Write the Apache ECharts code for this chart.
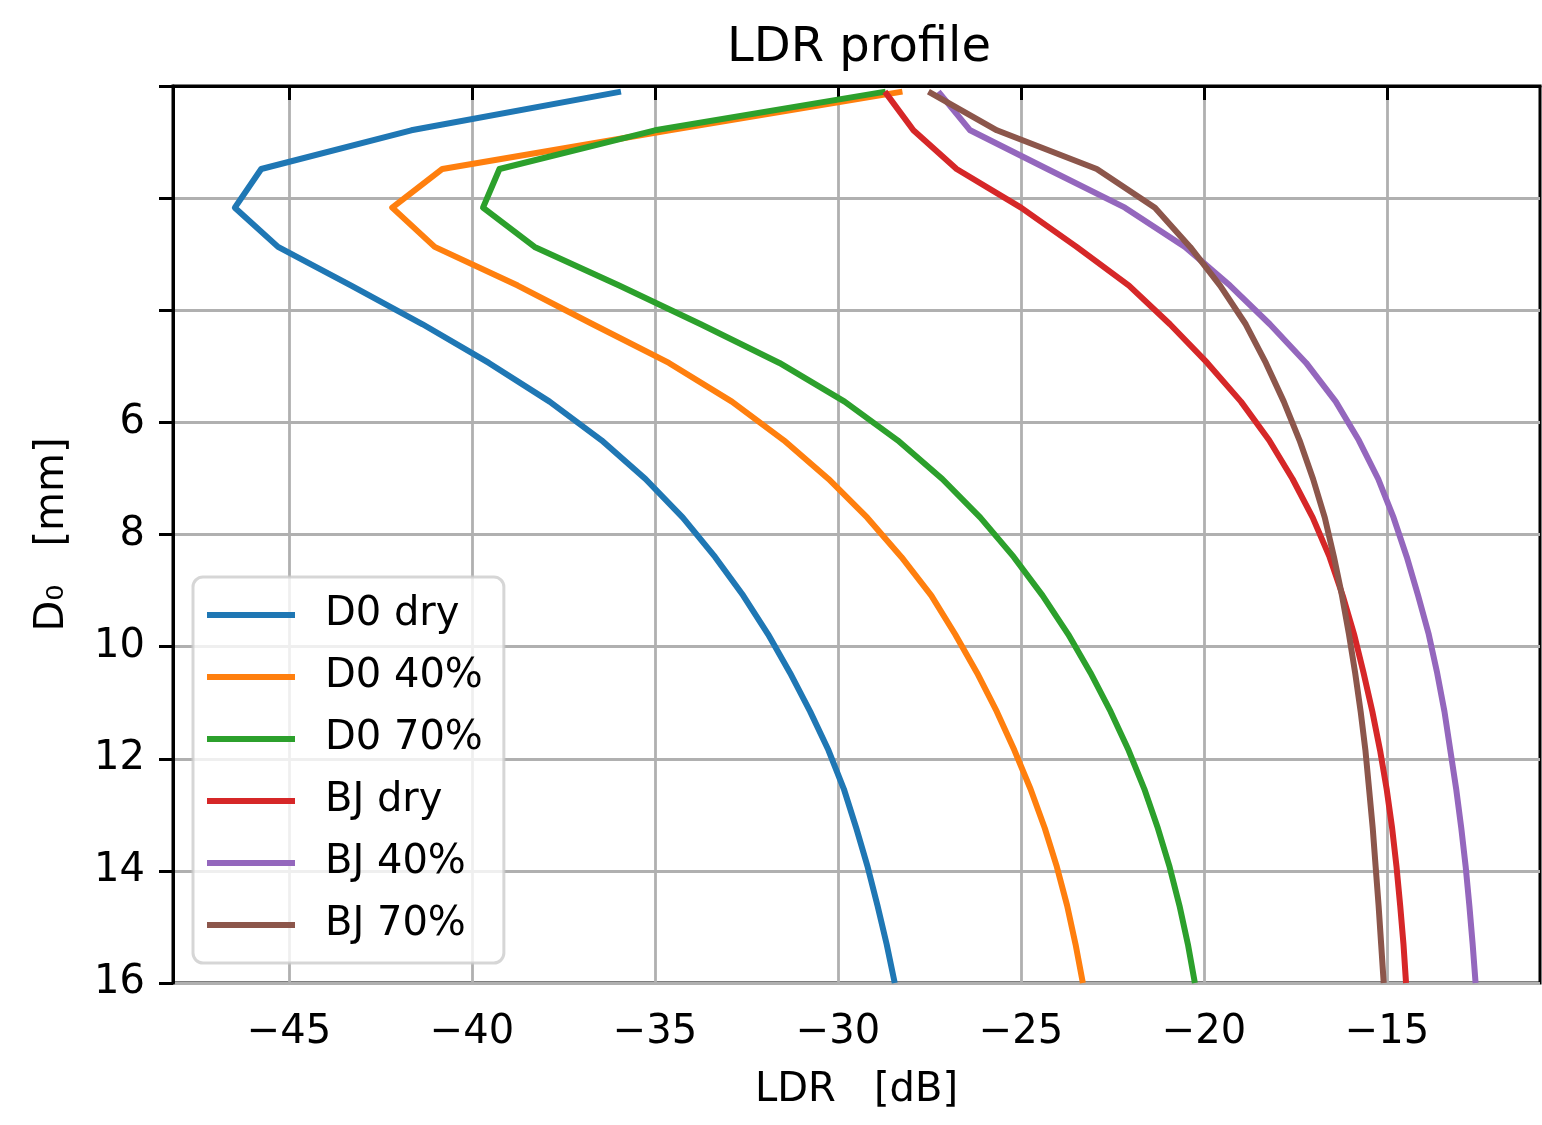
<!DOCTYPE html>
<html>
<head>
<meta charset="utf-8">
<title>LDR profile</title>
<script src="https://cdn.jsdelivr.net/npm/echarts@6/dist/echarts.min.js"></script>
<style>
  html, body { margin: 0; padding: 0; background: #fff; }
  #chart { width: 1542px; height: 1125px; }
</style>
</head>
<body>
<div id="chart"></div>
<script>
// D0 values (mm) of the profile points
const d0 = [0.1, 0.79, 1.48, 2.17, 2.87, 3.56, 4.25, 4.94, 5.63, 6.32, 7.01, 7.7,
  8.4, 9.09, 9.78, 10.47, 11.16, 11.85, 12.54, 13.24, 13.93, 14.62, 15.31, 16.0];

// LDR in dB
const d0Dry = [-35.93, -41.66, -45.76, -46.48, -45.3, -43.3, -41.35, -39.54, -37.88, -36.46, -35.26, -34.24,
  -33.36, -32.59, -31.91, -31.31, -30.76, -30.26, -29.84, -29.5, -29.19, -28.92, -28.67, -28.45];
const d040 = [-28.24, -34.6, -40.81, -42.18, -41.02, -38.75, -36.7, -34.62, -32.9, -31.48, -30.26, -29.2,
  -28.27, -27.45, -26.8, -26.2, -25.66, -25.18, -24.74, -24.35, -24.02, -23.74, -23.51, -23.31];
const d070 = [-28.7, -35.0, -39.25, -39.7, -38.29, -35.98, -33.75, -31.6, -29.82, -28.37, -27.15, -26.11,
  -25.2, -24.41, -23.71, -23.1, -22.55, -22.06, -21.63, -21.26, -20.94, -20.67, -20.44, -20.25];
const bjDry = [-28.72, -27.94, -26.76, -25.0, -23.48, -22.05, -20.93, -19.91, -18.99, -18.22, -17.58, -17.03,
  -16.57, -16.21, -15.9, -15.64, -15.4, -15.19, -15.01, -14.86, -14.74, -14.64, -14.55, -14.48];
const bj40 = [-27.26, -26.39, -24.28, -22.16, -20.52, -19.29, -18.2, -17.21, -16.4, -15.77, -15.24, -14.82,
  -14.46, -14.15, -13.86, -13.63, -13.43, -13.27, -13.11, -12.97, -12.85, -12.75, -12.66, -12.58];
const bj70 = [-27.53, -25.66, -22.93, -21.34, -20.38, -19.56, -18.86, -18.31, -17.82, -17.39, -17.02, -16.7,
  -16.45, -16.23, -16.04, -15.87, -15.72, -15.59, -15.49, -15.39, -15.31, -15.23, -15.16, -15.09];

const names = ["D0 dry", "D0 40%", "D0 70%", "BJ dry", "BJ 40%", "BJ 70%"];
const colors = ["#1f77b4", "#ff7f0e", "#2ca02c", "#d62728", "#9467bd", "#8c564b"];
const xTicks = [-45, -40, -35, -30, -25, -20, -15];

const font = "DejaVu Sans";
let chart = echarts.init(document.getElementById("chart"));

function minus(v) {
  return (v < 0 ? "\u2212" : "") + Math.abs(v);
}

let series = [d0Dry, d040, d070, bjDry, bj40, bj70].map((ldr, i) => ({
  name: names[i],
  type: "line",
  symbol: "none",
  color: colors[i],
  lineStyle: { width: 6, color: colors[i], join: "round" },
  data: ldr.map((v, k) => [v, d0[k]]),
}));

let option = {
  animation: false,
  backgroundColor: "#fff",
  title: {
    text: "LDR profile",
    left: 859,
    top: 25,
    textAlign: "center",
    padding: 0,
    textStyle: { fontFamily: font, fontSize: 48, fontWeight: "normal", color: "#000" },
  },
  grid: {
    left: 173,
    right: 2,
    top: 86,
    bottom: 142,
    show: true,
    borderColor: "#000",
    borderWidth: 3,
  },
  legend: {
    orient: "vertical",
    left: 193,
    top: 577,
    padding: [18, 21, 18, 14],
    icon: "rect",
    itemWidth: 88,
    itemHeight: 6,
    itemGap: 22,
    backgroundColor: "rgba(255,255,255,0.8)",
    borderColor: "rgba(204,204,204,0.8)",
    borderWidth: 3,
    borderRadius: 10,
    textStyle: { fontFamily: font, fontSize: 40, color: "#000", padding: [0, 0, 0, 25] },
    data: names,
  },
  xAxis: {
    type: "value",
    min: -48.17,
    max: -10.82,
    splitNumber: 7,
    name: "LDR   [dB]",
    nameLocation: "middle",
    nameGap: 88,
    nameTextStyle: { fontFamily: font, fontSize: 40, color: "#000" },
    axisLine: { show: true, lineStyle: { color: "#000", width: 3 } },
    axisTick: { show: true, length: 14, lineStyle: { color: "#000", width: 3 }, customValues: xTicks },
    axisLabel: {
      fontFamily: font,
      fontSize: 40,
      color: "#000",
      margin: 30,
      customValues: xTicks,
      formatter: minus,
    },
    splitLine: { show: true, lineStyle: { color: "#b0b0b0", width: 2.8 } },
  },
  yAxis: {
    type: "value",
    inverse: true,
    min: 0,
    max: 16,
    interval: 2,
    name: "D\u2080   [mm]",
    nameLocation: "middle",
    nameGap: 100,
    nameTextStyle: { fontFamily: font, fontSize: 40, color: "#000" },
    axisLine: { show: true, lineStyle: { color: "#000", width: 3 } },
    axisTick: { show: true, length: 14, lineStyle: { color: "#000", width: 3 } },
    axisLabel: {
      fontFamily: font,
      fontSize: 40,
      color: "#000",
      margin: 28,
      formatter: (v) => (v >= 6 ? String(v) : ""),
    },
    splitLine: { show: true, lineStyle: { color: "#b0b0b0", width: 2.8 } },
  },
  series: series,
};

chart.setOption(option);
</script>
</body>
</html>
